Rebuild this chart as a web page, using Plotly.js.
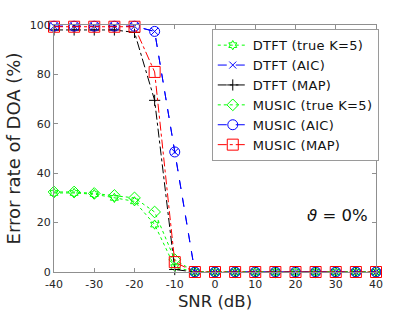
<!DOCTYPE html>
<html><head><meta charset="utf-8">
<script src="https://cdn.plot.ly/plotly-3.0.1.min.js"></script>
<style>html,body{margin:0;padding:0;background:#fff}
.legendtext{letter-spacing:0.3px}</style>
</head><body><div id="c" style="width:415px;height:312px"></div>
<script>
const snr = [-40,-35,-30,-25,-20,-15,-10,-5,0,5,10,15,20,25,30,35,40];
const dtftTrue  = [32,32,31.5,30,28.6,19.2,2,0,0,0,0,0,0,0,0,0,0];
const dtftAIC   = [99.5,99.5,99.5,99.5,99.5,97.4,48.6,0,0,0,0,0,0,0,0,0,0];
const dtftMAP   = [98,98,98,98,97,69.5,1,0,0,0,0,0,0,0,0,0,0];
const musicTrue = [32.4,32.4,31.8,31,30,24.3,5,0,0,0,0,0,0,0,0,0,0];
const musicAIC  = [99.5,99.5,99.5,99.5,99.5,97.4,48.6,0,0,0,0,0,0,0,0,0,0];
const musicMAP  = [99.3,99.3,99.3,99.3,99.3,81,4,0,0,0,0,0,0,0,0,0,0];
const names = ['DTFT (true K=5)','DTFT (AIC)','DTFT (MAP)','MUSIC (true K=5)','MUSIC (AIC)','MUSIC (MAP)'];
const xTicks = [-40,-30,-20,-10,0,10,20,30,40];
const yTicks = [0,20,40,60,80,100];

function tr(y, name, color, dash, sym, size){
  return {x: snr, y: y, name: name, type:'scatter', mode:'lines+markers', cliponaxis:false,
    line:{color:color, dash:dash, width:1},
    marker:{symbol:sym, size:size, color:color, line:{color:color, width:1}}};
}
const data = [
  tr(dtftTrue, names[0], '#00ff00', 'dot', 'hexagram-open', 7),
  tr(dtftAIC, names[1], '#0000ff', 'dash', 'x-thin-open', 7),
  tr(dtftMAP, names[2], '#000000', 'dashdot', 'cross-thin-open', 8),
  tr(musicTrue, names[3], '#00ff00', 'dot', 'diamond-open', 9),
  tr(musicAIC, names[4], '#0000ff', 'dash', 'circle-open', 10),
  tr(musicMAP, names[5], '#ff0000', 'dashdot', 'square-open', 11)
];
const FONT = 'DejaVu Sans, Arial, sans-serif';
const ax = {showgrid:false, zeroline:false, showline:true, linecolor:'#8f8f8f', linewidth:1,
  mirror:'ticks', ticks:'inside', ticklen:4, tickcolor:'#8f8f8f',
  tickfont:{family:FONT, size:11, color:'#262626'}};
const layout = {
  width:415, height:312, margin:{l:54, r:39, t:25, b:40},
  paper_bgcolor:'#fff', plot_bgcolor:'#fff',
  font:{family:FONT},
  xaxis: Object.assign({}, ax, {range:[-40,40], tickvals:xTicks, ticktext:xTicks.map(String), ticklabelstandoff:2,
    title:{text:'SNR (dB)', font:{size:16.5, color:'#262626'}, standoff:5}}),
  yaxis: Object.assign({}, ax, {range:[0,100], tickvals:yTicks, ticktext:yTicks.map(String),
    title:{text:'Error rate of DOA (%)', font:{size:18, color:'#262626'}, standoff:4}}),
  legend:{x:0.49, y:0.983, xanchor:'left', yanchor:'top', bgcolor:'#fff', bordercolor:'#9a9a9a', borderwidth:1,
    font:{family:FONT, size:13, color:'#111'}, tracegroupgap:0, itemwidth:30},
  annotations:[{x:38.5, y:23, xref:'x', yref:'y', xanchor:'right', yanchor:'middle', showarrow:false,
    text:'<i>ϑ</i> = 0%', font:{family:FONT, size:16.5, color:'#111'}}],
  showlegend:true
};
Plotly.newPlot('c', data, layout, {displayModeBar:false, staticPlot:true});
</script></body></html>
